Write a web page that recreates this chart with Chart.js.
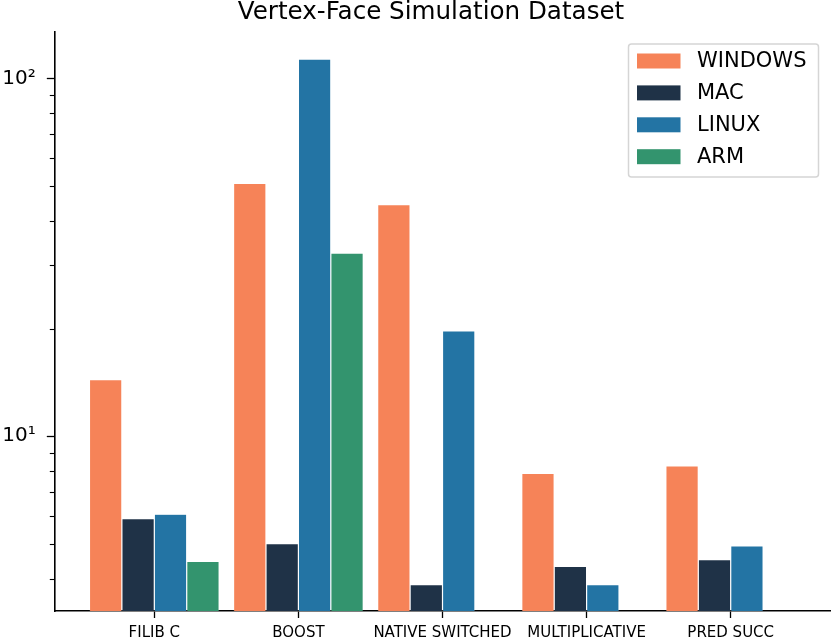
<!DOCTYPE html>
<html>
<head>
<meta charset="utf-8">
<script src="https://cdn.jsdelivr.net/npm/chart.js@4/dist/chart.umd.min.js"></script>
<style>
html,body{margin:0;padding:0;background:#fff;}
#wrap{width:831px;height:641px;position:relative;}
</style>
</head>
<body>
<div id="wrap"><canvas id="c" width="831" height="641"></canvas></div>
<script>
const chartTitle = 'Vertex-Face Simulation Dataset';
const categories = ['FILIB C', 'BOOST', 'NATIVE SWITCHED', 'MULTIPLICATIVE', 'PRED SUCC'];
const seriesNames = ['WINDOWS', 'MAC', 'LINUX', 'ARM'];
const windowsValues = [14.4, 50.9, 44.4, 7.88, 8.26];
const macValues = [5.89, 5.01, 3.85, 4.33, 4.52];
const linuxValues = [6.06, 113.2, 19.7, 3.85, 4.94];
const armValues = [4.47, 32.5, null, null, null];
const seriesColors = ['rgb(246,131,88)', 'rgb(31,50,71)', 'rgb(35,116,164)', 'rgb(51,148,110)'];
const yMajorTicks = [10, 100];
const yMajorLabels = ['10\u00B9', '10\u00B2'];
const yMinorTicks = [4, 5, 6, 7, 8, 9, 20, 30, 40, 50, 60, 70, 80, 90];
const yMin = 3.25, yMax = 134.7;

const FONT = "'DejaVu Sans', sans-serif";
const allValues = [windowsValues, macValues, linuxValues, armValues];

const datasets = seriesNames.map((name, s) => ({
  label: name,
  data: allValues[s].map((v, i) => ({x: i, y: v})),
  backgroundColor: seriesColors[s],
  borderColor: 'rgba(255,255,255,0.35)',
  borderWidth: 0.6,
  categoryPercentage: 0.9,
  barPercentage: 1.0
}));

const extras = {
  id: 'extras',
  afterDraw(chart) {
    const ctx = chart.ctx;
    const ca = chart.chartArea;
    const y = chart.scales.y;
    // minor ticks
    ctx.save();
    ctx.strokeStyle = '#000';
    ctx.lineWidth = 1.1;
    yMinorTicks.forEach(v => {
      if (v < yMin || v > yMax) return;
      const py = Math.round(y.getPixelForValue(v)) + 0.5;
      ctx.beginPath();
      ctx.moveTo(ca.left - 4.5, py);
      ctx.lineTo(ca.left, py);
      ctx.stroke();
    });
    ctx.restore();
    // title
    ctx.save();
    ctx.fillStyle = '#000';
    ctx.font = '24.6px ' + FONT;
    ctx.textAlign = 'center';
    ctx.textBaseline = 'alphabetic';
    ctx.fillText(chartTitle, 431, 18.5);
    ctx.restore();
    // legend
    ctx.save();
    const lx = 628.5, ly = 44, lw = 190, lh = 133, r = 3;
    ctx.fillStyle = 'rgba(255,255,255,0.8)';
    ctx.strokeStyle = '#d5d5d5';
    ctx.lineWidth = 1.5;
    ctx.beginPath();
    ctx.moveTo(lx + r, ly);
    ctx.lineTo(lx + lw - r, ly);
    ctx.arcTo(lx + lw, ly, lx + lw, ly + r, r);
    ctx.lineTo(lx + lw, ly + lh - r);
    ctx.arcTo(lx + lw, ly + lh, lx + lw - r, ly + lh, r);
    ctx.lineTo(lx + r, ly + lh);
    ctx.arcTo(lx, ly + lh, lx, ly + lh - r, r);
    ctx.lineTo(lx, ly + r);
    ctx.arcTo(lx, ly, lx + r, ly, r);
    ctx.closePath();
    ctx.fill();
    ctx.stroke();
    ctx.font = '21px ' + FONT;
    ctx.textAlign = 'left';
    ctx.textBaseline = 'middle';
    chart.data.datasets.forEach((ds, i) => {
      const cy = 61 + i * 31.9;
      ctx.fillStyle = ds.backgroundColor;
      ctx.fillRect(637, cy - 7.5, 43.5, 15);
      ctx.fillStyle = '#000';
      ctx.fillText(ds.label, 697, cy + 1);
    });
    ctx.restore();
  }
};

new Chart(document.getElementById('c'), {
  type: 'bar',
  data: { datasets },
  options: {
    responsive: false,
    animation: false,
    devicePixelRatio: 1,
    layout: { padding: { top: 32, right: 0, left: 0, bottom: 0 } },
    plugins: {
      legend: { display: false },
      title: { display: false },
      tooltip: { enabled: false }
    },
    scales: {
      x: {
        type: 'linear',
        offset: false,
        min: -0.694,
        max: 4.696,
        afterBuildTicks: (scale) => { scale.ticks = categories.map((c, i) => ({value: i})); },
        afterFit: (scale) => { scale.height = 30; },
        grid: { display: true, offset: false, drawOnChartArea: false, drawTicks: true, tickLength: 7, tickWidth: 1.3, tickColor: '#000' },
        border: { display: true, color: '#000', width: 1.6 },
        ticks: {
          autoSkip: false,
          maxRotation: 0,
          padding: 6,
          color: '#000',
          font: { family: FONT, size: 15 },
          callback: (v) => categories[v] !== undefined ? categories[v] : ''
        }
      },
      y: {
        type: 'logarithmic',
        min: yMin,
        max: yMax,
        afterBuildTicks: (scale) => { scale.ticks = yMajorTicks.map(v => ({value: v})); },
        afterFit: (scale) => { scale.width = 54.3; },
        grid: { display: true, drawOnChartArea: false, drawTicks: true, tickLength: 7.5, tickWidth: 1.3, tickColor: '#000' },
        border: { display: true, color: '#000', width: 1.6 },
        ticks: {
          padding: 11,
          color: '#000',
          font: { family: FONT, size: 20 },
          callback: (v) => {
            const k = yMajorTicks.indexOf(v);
            return k >= 0 ? yMajorLabels[k] : '';
          }
        }
      }
    }
  },
  plugins: [extras]
});
</script>
</body>
</html>
